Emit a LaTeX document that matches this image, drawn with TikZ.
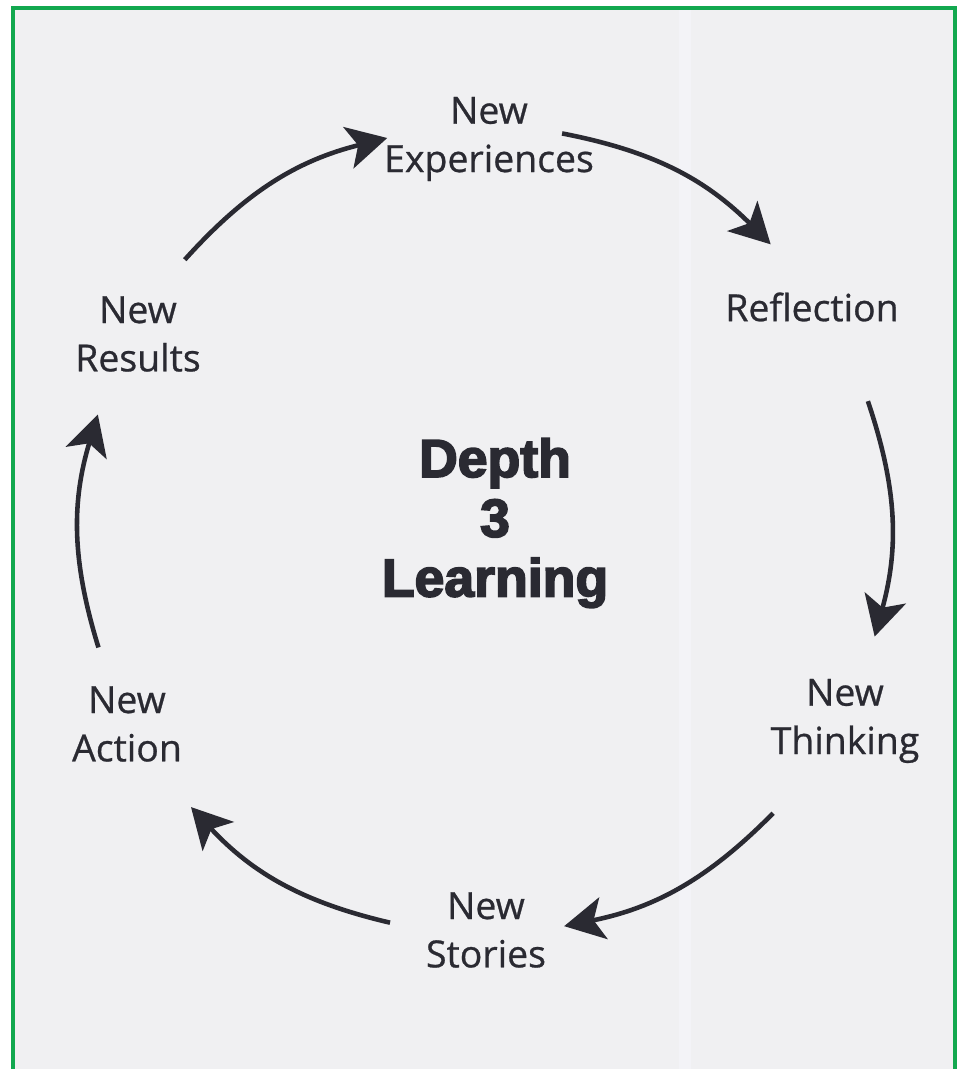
\documentclass[tikz,border=0pt]{standalone}
\usepackage{fontspec}
\setmainfont{Open Sans}
\newfontfamily\labelfont[FakeBold=0.7]{Open Sans}
\newfontfamily\heavyfont[BoldFont={Liberation Sans Bold},BoldFeatures={FakeBold=3.2}]{Liberation Sans}
\usepackage{tikz}
\usetikzlibrary{calc}
\usetikzlibrary{arrows.meta}
\usepackage{xcolor}
\definecolor{pagegray}{HTML}{F0F0F2}
\definecolor{bandgray}{HTML}{F3F3F7}
\definecolor{framegreen}{HTML}{12A84F}
\definecolor{inkdark}{HTML}{2A2A32}

\begin{document}
\begin{tikzpicture}[
  lbl/.style={align=center, text=inkdark, inner sep=0pt, font=\labelfont\fontsize{21.3}{27.5}\selectfont},
  cyc/.style={draw=inkdark, line width=2.6pt, -{Stealth[length=0.8cm,width=0.85cm,inset=0.2cm]}}]
 \pgfmathsetmacro{\rad}{8.08}
  \useasboundingbox (0,0) rectangle (19.18,-21.38);
  \fill[white] (0,0) rectangle (19.18,-21.38);
  \fill[pagegray] (0.26,-0.16) rectangle (19.1,-21.38);
  \fill[bandgray] (13.58,-0.2) rectangle (13.82,-21.38);
  \draw[framegreen, line width=2.2pt] (0.26,-21.38) -- (0.26,-0.16) -- (19.1,-0.16) -- (19.1,-21.38);

  \coordinate (o) at (9.70,-10.60);
  \node[lbl] (exp) at (9.78,-2.78) {New\\Experiences};
  \node[lbl] (refl) at (16.24,-6.14) {Reflection};
  \node[lbl] (think) at (16.90,-14.42) {New\\Thinking};
  \node[lbl] (stor) at (9.72,-18.60) {New\\Stories};
  \node[lbl] (act) at (2.54,-14.48) {New\\Action};
  \node[lbl] (res) at (2.76,-6.68) {New\\Results};
  \node[text=inkdark, align=center, inner sep=0pt, font=\heavyfont\bfseries\fontsize{30.5}{34}\selectfont] (depth) at (9.90,-10.46) {Depth\\3\\Learning};

  \foreach \s/\e/\i in {138/104/1, 79/45/2, 18.6/-15.3/3, -44.5/-78.7/4, -103.6/-136.7/5, -163.1/-196.6/6}{
    \coordinate (s\i) at ($(o)+(\s:\rad)$);
    \coordinate (e\i) at ($(o)+(\e:\rad)$);
    \draw[cyc] (s\i) to[bend left=17] (e\i);
}
\end{tikzpicture}
\end{document}
